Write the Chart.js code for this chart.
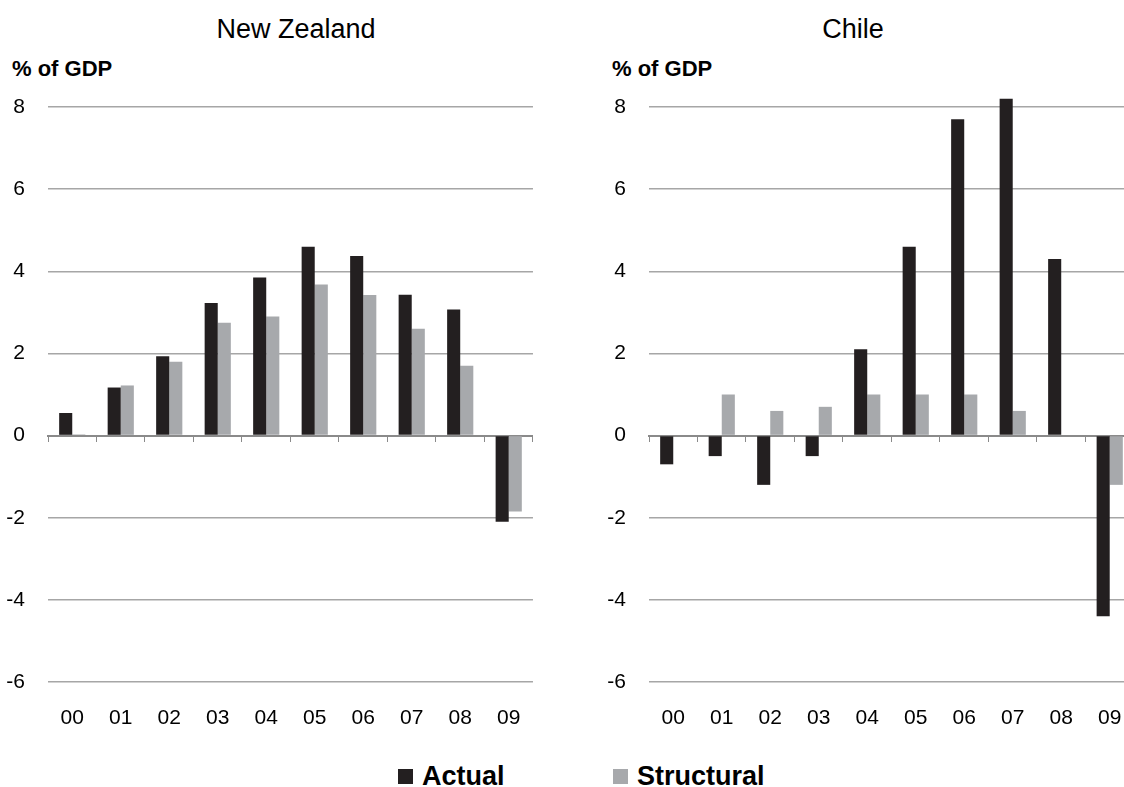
<!DOCTYPE html>
<html>
<head>
<meta charset="utf-8">
<script src="https://cdn.jsdelivr.net/npm/chart.js@4"></script>
<style>
  html, body { margin: 0; padding: 0; background: #fff; }
  body { width: 1124px; height: 787px; overflow: hidden; position: relative; font-family: "Liberation Sans", Arial, sans-serif; }
  .box { position: absolute; top: 0; width: 545px; height: 740px; }
  .title { position: absolute; top: 12px; font-size: 27px; line-height: 34px; color: #000; text-align: center; width: 300px; }
  .unit { position: absolute; top: 56px; font-size: 22px; line-height: 26px; font-weight: bold; color: #000; }
  .legend { position: absolute; top: 761px; font-size: 27px; line-height: 30px; font-weight: bold; color: #000; white-space: nowrap; }
  .legend span.sw { display: inline-block; width: 15px; height: 15px; margin-right: 9px; vertical-align: 1px; }
</style>
</head>
<body>
<div class="title" style="left:146px">New Zealand</div>
<div class="title" style="left:703px">Chile</div>
<div class="unit" style="left:12px">% of GDP</div>
<div class="unit" style="left:612px">% of GDP</div>
<div class="box" style="left:0px"><canvas id="nzChart"></canvas></div>
<div class="box" style="left:601px"><canvas id="clChart"></canvas></div>
<div class="legend" style="left:398px"><span class="sw" style="background:#231f20"></span>Actual</div>
<div class="legend" style="left:613px"><span class="sw" style="background:#a7a9ac"></span>Structural</div>

<script>
const years = ['00', '01', '02', '03', '04', '05', '06', '07', '08', '09'];
const seriesNames = ['Actual', 'Structural'];
const nzActual = [0.55, 1.17, 1.93, 3.23, 3.85, 4.6, 4.37, 3.43, 3.07, -2.1];
const nzStructural = [0.03, 1.22, 1.8, 2.75, 2.9, 3.68, 3.42, 2.6, 1.7, -1.85];
const clActual = [-0.7, -0.5, -1.2, -0.5, 2.1, 4.6, 7.7, 8.2, 4.3, -4.4];
const clStructural = [null, 1.0, 0.6, 0.7, 1.0, 1.0, 1.0, 0.6, null, -1.2];
const yTicks = [-6, -4, -2, 0, 2, 4, 6, 8];

const darkColor = '#231f20';
const lightColor = '#a7a9ac';
const fontFamily = '"Liberation Sans", Arial, sans-serif';

function makeChart(id, actual, structural) {
  const ctx = document.getElementById(id).getContext('2d');
  return new Chart(ctx, {
    type: 'bar',
    data: {
      labels: years,
      datasets: [
        { label: seriesNames[0], data: actual, backgroundColor: darkColor, xAxisID: 'x', clip: false },
        { label: seriesNames[1], data: structural, backgroundColor: lightColor, xAxisID: 'x', clip: false }
      ]
    },
    options: {
      responsive: true,
      maintainAspectRatio: false,
      animation: false,
      categoryPercentage: 0.54,
      barPercentage: 1,
      layout: { padding: { top: 107, right: 12, left: 0, bottom: 0 } },
      plugins: {
        legend: { display: false },
        tooltip: { enabled: false }
      },
      scales: {
        y: {
          min: yTicks[0],
          max: yTicks[yTicks.length - 1],
          afterFit: s => { s.width = 48; },
          afterBuildTicks: s => { s.ticks = yTicks.map(v => ({ value: v })); },
          grid: { color: '#a6a6a6', lineWidth: 1.5, drawTicks: false },
          border: { display: false },
          ticks: { color: '#000', padding: 23, font: { family: fontFamily, size: 21 } }
        },
        x: {
          afterFit: s => { s.height = 58; },
          grid: { display: false, drawTicks: false },
          border: { display: false },
          ticks: { color: '#000', padding: 24, maxRotation: 0, font: { family: fontFamily, size: 21 } }
        },
        x2: {
          type: 'category',
          labels: years,
          position: { y: 0 },
          offset: true,
          grid: { drawOnChartArea: false, drawTicks: true, tickLength: 5, color: '#8a8a8a', offset: true },
          border: { display: true, color: '#8a8a8a', width: 2 },
          ticks: { color: 'rgba(0,0,0,0)', font: { size: 1 } }
        }
      }
    }
  });
}

makeChart('nzChart', nzActual, nzStructural);
makeChart('clChart', clActual, clStructural);
</script>
</body>
</html>
